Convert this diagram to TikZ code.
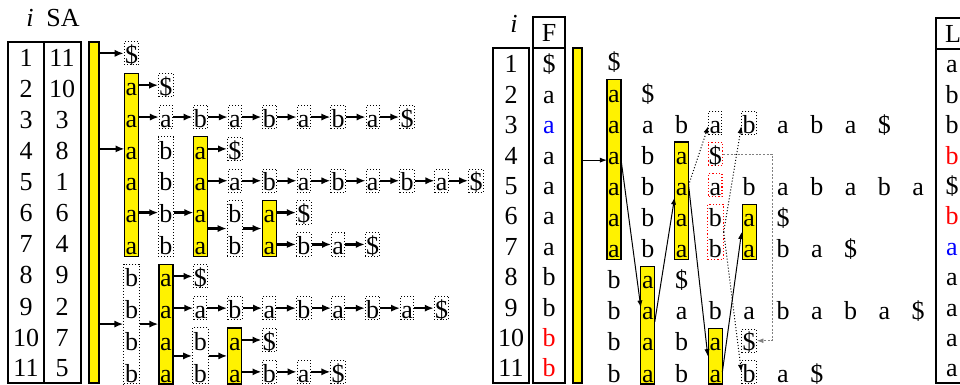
\documentclass[tikz,border=0pt]{standalone}
\usepackage{fontspec}
\setmainfont{Liberation Serif}
\usetikzlibrary{arrows.meta,fit,backgrounds,calc}
\newcommand\lgx[1]{131.5+34.45*#1}
\newcommand\lgy[1]{63.5+31.85*(#1-1)}
\newcommand\rgx[1]{614+33.8*#1}
\newcommand\rgy[1]{71+31.1*(#1-1)}
\newcommand\lty[1]{67+31*(#1-1)}
\newcommand\rty[1]{73+30.4*(#1-1)}
\begin{document}
\begin{tikzpicture}[x=0.5pt,y=-0.5pt,
  font=\fontsize{13}{15}\selectfont,
  ltr/.style={anchor=base,inner sep=0.4pt,text height=10.5pt,text depth=0.35pt},
  sbox/.style={ltr,draw,densely dotted,line width=0.5pt},
  rbox/.style={ltr,draw=red,densely dotted,line width=0.6pt},
  ybar/.style={draw,fill=yellow,inner sep=0pt,line width=0.6pt},
  gbox/.style={draw,densely dotted,inner sep=0pt,line width=0.5pt},
  rgbox/.style={draw=red,densely dotted,inner sep=0pt,line width=0.6pt},
  tarr/.style={-{Latex[length=4.5pt,width=3.6pt]},line width=1.1pt},
  narr/.style={-{Latex[length=3.6pt,width=2.6pt]},line width=0.5pt},
  darr/.style={narr,densely dotted},
  garr/.style={-{Latex[length=3.2pt,width=2.4pt]},line width=0.4pt,gray,dash pattern=on 1pt off 0.8pt},
  tab/.style={line width=0.7pt},
  num/.style={anchor=base,inner sep=0pt},
]
\useasboundingbox (0,0) rectangle (960,385);

% ---------- left table ----------
\draw[tab] (8,42) rectangle (81,383);
\draw[tab] (44,42) -- (44,383);
\node[num] (hli) at (30,27) {\textit{i}};
\node[num] (hlsa) at (63,27) {SA};
\foreach \r/\s in {1/11,2/10,3/3,4/8,5/1,6/6,7/4,8/9,9/2,10/7,11/5}{
  \node[num] (ti-\r) at (26,{\lty{\r}}) {\r};
  \node[num] (ts-\r) at (62,{\lty{\r}}) {\s};
}

% ---------- left graph letters ----------
\foreach \r/\c/\t in {2/0/a,3/0/a,4/0/a,5/0/a,6/0/a,7/0/a,4/1/b,5/1/b,6/1/b,7/1/b,
  4/2/a,5/2/a,6/2/a,7/2/a,6/3/b,7/3/b,6/4/a,7/4/a,8/0/b,9/0/b,10/0/b,11/0/b,
  8/1/a,9/1/a,10/1/a,11/1/a,10/2/b,11/2/b,10/3/a,11/3/a}
  \node[ltr] (l-\r-\c) at ({\lgx{\c}},{\lgy{\r}}) {\t};
\foreach \r/\c/\t in {1/0/\$,2/1/\$,3/1/a,3/2/b,3/3/a,3/4/b,3/5/a,3/6/b,3/7/a,3/8/\$,
  4/3/\$,5/3/a,5/4/b,5/5/a,5/6/b,5/7/a,5/8/b,5/9/a,5/10/\$,6/5/\$,7/5/b,7/6/a,7/7/\$,
  8/2/\$,9/2/a,9/3/b,9/4/a,9/5/b,9/6/a,9/7/b,9/8/a,9/9/\$,10/4/\$,11/4/b,11/5/a,11/6/\$}
  \node[sbox] (l-\r-\c) at ({\lgx{\c}},{\lgy{\r}}) {\t};

% ---------- right tables ----------
\draw[tab] (493,48) rectangle (529,383);
\draw[tab] (533,17) rectangle (565,383);
\draw[tab] (533,48) -- (565,48);
\node[num] (hri) at (514,33) {\textit{i}};
\node[num] (hrf) at (549,42) {F};
\draw[tab] (962,18) -- (936,18) -- (936,383) -- (962,383);
\draw[tab] (936,49) -- (962,49);
\node[num] (hrl) at (953,43) {L};
\foreach \r/\f/\l in {1/\$/a,2/a/b,3/\textcolor{blue}{a}/b,4/a/\textcolor{red}{b},5/a/\$,
  6/a/\textcolor{red}{b},7/a/\textcolor{blue}{a},8/b/a,9/b/a,10/\textcolor{red}{b}/a,11/\textcolor{red}{b}/a}{
  \node[num] (ri-\r) at (511,{\rty{\r}}) {\r};
  \node[num] (rf-\r) at (549,{\rty{\r}}) {\f};
  \node[num] (rl-\r) at (952,{\rty{\r}}) {\l};
}

% ---------- right graph letters ----------
\foreach \r/\c/\t in {1/0/\$,2/0/a,2/1/\$,3/0/a,3/1/a,3/2/b,3/5/a,3/6/b,3/7/a,3/8/\$,
  4/0/a,4/1/b,4/2/a,5/0/a,5/1/b,5/2/a,5/4/b,5/5/a,5/6/b,5/7/a,5/8/b,5/9/a,
  6/0/a,6/1/b,6/2/a,6/3/b,6/4/a,6/5/\$,7/0/a,7/1/b,7/2/a,7/3/b,7/4/a,7/5/b,7/6/a,7/7/\$,
  8/0/b,8/1/a,8/2/\$,9/0/b,9/1/a,9/2/a,9/3/b,9/4/a,9/5/b,9/6/a,9/7/b,9/8/a,9/9/\$,
  10/0/b,10/1/a,10/2/b,10/3/a,11/0/b,11/1/a,11/2/b,11/3/a,11/5/a,11/6/\$}
  \node[ltr] (r-\r-\c) at ({\rgx{\c}},{\rgy{\r}}) {\t};
\foreach \r/\c/\t in {3/3/a,3/4/b,10/4/\$,11/4/b}
  \node[sbox] (r-\r-\c) at ({\rgx{\c}},{\rgy{\r}}) {\t};
\foreach \r/\c/\t in {4/3/\$,5/3/a}
  \node[rbox] (r-\r-\c) at ({\rgx{\c}},{\rgy{\r}}) {\t};

% ---------- bars ----------
\coordinate (lmb1) at (89,42); \coordinate (lmb2) at (99,383);
\coordinate (rmb1) at (573,48); \coordinate (rmb2) at (582,383);
\begin{scope}[on background layer]
  \node[ybar,fit=(lmb1)(lmb2)] (LMB) {};
  \node[ybar,fit=(l-2-0)(l-7-0)] (LA0) {};
  \node[ybar,fit=(l-4-2)(l-7-2)] (LA2) {};
  \node[ybar,fit=(l-6-4)(l-7-4)] (LA4) {};
  \node[ybar,fit=(l-8-1)(l-11-1)] (LA1) {};
  \node[ybar,fit=(l-10-3)(l-11-3)] (LA3) {};
  \node[ybar,fit=(rmb1)(rmb2)] (RMB) {};
  \node[ybar,fit=(r-2-0)(r-7-0)] (RA0) {};
  \node[ybar,fit=(r-4-2)(r-7-2)] (RA2) {};
  \node[ybar,fit=(r-6-4)(r-7-4)] (RA4) {};
  \node[ybar,fit=(r-8-1)(r-11-1)] (RA1) {};
  \node[ybar,fit=(r-10-3)(r-11-3)] (RA3) {};
\end{scope}
\node[gbox,fit=(l-4-1)(l-7-1)] (LB1) {};
\node[gbox,fit=(l-6-3)(l-7-3)] (LB3) {};
\node[gbox,fit=(l-8-0)(l-11-0)] (LB0) {};
\node[gbox,fit=(l-10-2)(l-11-2)] (LB2) {};
\node[rgbox,fit=(r-6-3)(r-7-3)] (RR) {};

% ---------- left arrows ----------
\draw[tarr] (LMB.east |- l-1-0) -- (l-1-0.west);
\draw[tarr] (LMB.east |- l-4-0) -- (l-4-0.west);
\draw[tarr] (LMB.east |- LB0) -- (LB0.west);
\foreach \r/\a/\b in {2/0/1,3/0/1,3/1/2,3/2/3,3/3/4,3/4/5,3/5/6,3/6/7,3/7/8,4/2/3,
  5/2/3,5/3/4,5/4/5,5/5/6,5/6/7,5/7/8,5/8/9,5/9/10,6/0/1,6/1/2,6/4/5,7/4/5,7/5/6,7/6/7,
  8/1/2,9/1/2,9/2/3,9/3/4,9/4/5,9/5/6,9/6/7,9/7/8,9/8/9,10/3/4,11/3/4,11/4/5,11/5/6}
  \draw[tarr] (l-\r-\a.east) -- (l-\r-\b.west);
\draw[tarr] (LA2.east |- LB3) -- (LB3.west);
\draw[tarr] (LB3.east) -- (LA4.west);
\draw[tarr] (LB0.east) -- (LA1.west);
\draw[tarr] (LA1.east |- LB2) -- (LB2.west);
\draw[tarr] (LB2.east) -- (LA3.west);

% ---------- right arrows ----------
\draw[narr] ($(RMB.east |- r-4-0)+(0,6)$) -- ($(r-4-0.west)+(0,6)$);
\draw[narr] ($(r-4-0.east)+(0,5)$) -- ($(r-9-1.west)+(0,-2)$);
\draw[narr] (r-9-1.south east) -- (r-5-2.south west);
\draw[narr] (r-5-2.east) -- (RA3.west);
\draw[narr] (r-11-3.east) -- (RA4.west);
\draw[darr] (r-5-2.east) -- ($(r-3-3.west)+(0,3)$);
\draw[darr] (RR.east) -- ($(r-3-4.west)+(0,3)$);
\draw[darr] (RR.east) -- (r-11-4.west);
\coordinate (gx) at (772,0);
\draw[garr] (r-4-3.east) -- (r-4-3.east -| gx) -- (gx |- r-10-4.east) -- (r-10-4.east);
\end{tikzpicture}
\end{document}
